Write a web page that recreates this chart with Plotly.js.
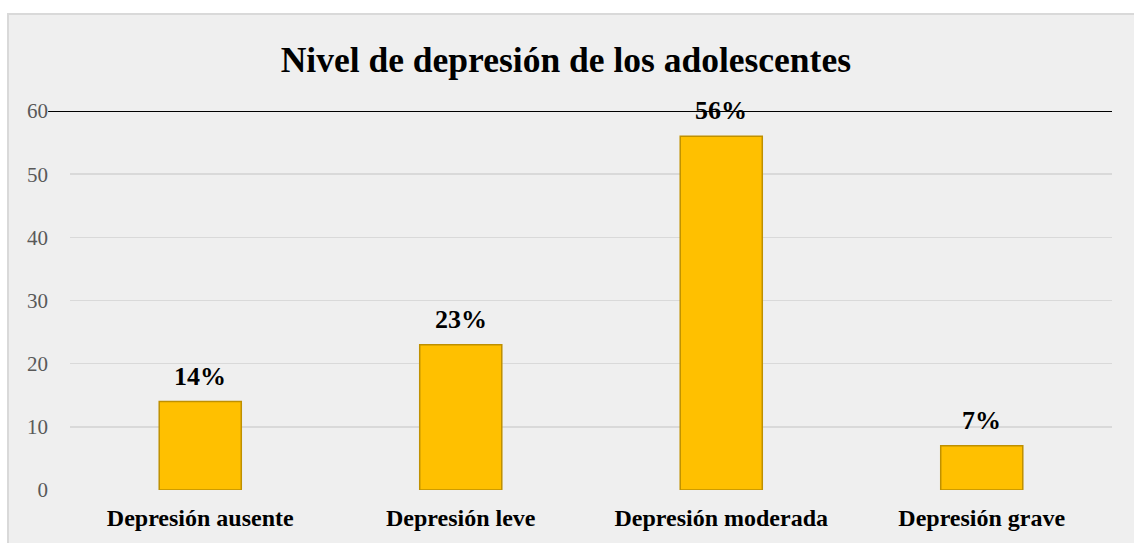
<!DOCTYPE html>
<html>
<head>
<meta charset="utf-8">
<script src="https://cdn.plot.ly/plotly-3.0.1.min.js"></script>
<style>
html,body{margin:0;padding:0;background:#ffffff;width:1134px;height:543px;overflow:hidden;}
#box{position:absolute;left:7px;top:13px;width:1125px;height:530px;background:#efefef;border-left:2px solid #d9d9d9;border-top:2px solid #d9d9d9;}
#chart{width:1125px;height:528px;}
</style>
</head>
<body>
<div id="box"><div id="chart"></div></div>
<script>
const categories = ["Depresión ausente", "Depresión leve", "Depresión moderada", "Depresión grave"];
const values = [14, 23, 56, 7];
const labels = ["14%", "23%", "56%", "7%"];
const yTicks = [0, 10, 20, 30, 40, 50, 60];

const SERIF = "Liberation Serif";

const trace = {
  type: "bar",
  x: categories,
  y: values,
  marker: {color: "#FFC000", line: {color: "#BF9000", width: 1.5}},
  width: 0.315,
  hoverinfo: "none"
};

const annotations = categories.map((c, i) => ({
  x: c, y: values[i], xref: "x", yref: "y",
  text: "<b>" + labels[i] + "</b>",
  showarrow: false,
  yanchor: "bottom",
  yshift: 9,
  font: {family: SERIF, size: 26, color: "#000000"}
}));

const layout = {
  width: 1125,
  height: 528,
  margin: {l: 61, r: 22, t: 96, b: 53},
  paper_bgcolor: "rgba(0,0,0,0)",
  plot_bgcolor: "rgba(0,0,0,0)",
  showlegend: false,
  font: {family: SERIF},
  title: {
    text: "<b>Nivel de depresión de los adolescentes</b>",
    font: {family: SERIF, size: 35.5, color: "#000000"},
    x: 0.495, xanchor: "center", y: 0.915, yanchor: "middle"
  },
  xaxis: {
    type: "category",
    tickvals: categories,
    ticktext: categories.map(s => "<b>" + s + "</b>"),
    showgrid: false,
    zeroline: false,
    showline: false,
    ticks: "",
    tickfont: {family: SERIF, size: 24, color: "#000000"},
    ticklabelstandoff: 11
  },
  yaxis: {
    range: [0, 60],
    tickvals: yTicks,
    ticktext: yTicks.map(String),
    showgrid: true,
    gridcolor: "#d9d9d9",
    gridwidth: 1.5,
    zeroline: false,
    showline: false,
    ticks: "",
    tickfont: {family: SERIF, size: 21, color: "#595959"},
    ticklabelstandoff: 21
  },
  annotations: annotations,
  shapes: [{
    type: "line", xref: "paper", yref: "y",
    x0: -0.021, x1: 1, y0: 60, y1: 60,
    line: {color: "#000000", width: 2}
  }],
  bargap: 0.685
};

Plotly.newPlot("chart", [trace], layout, {displayModeBar: false, staticPlot: true});
</script>
</body>
</html>
